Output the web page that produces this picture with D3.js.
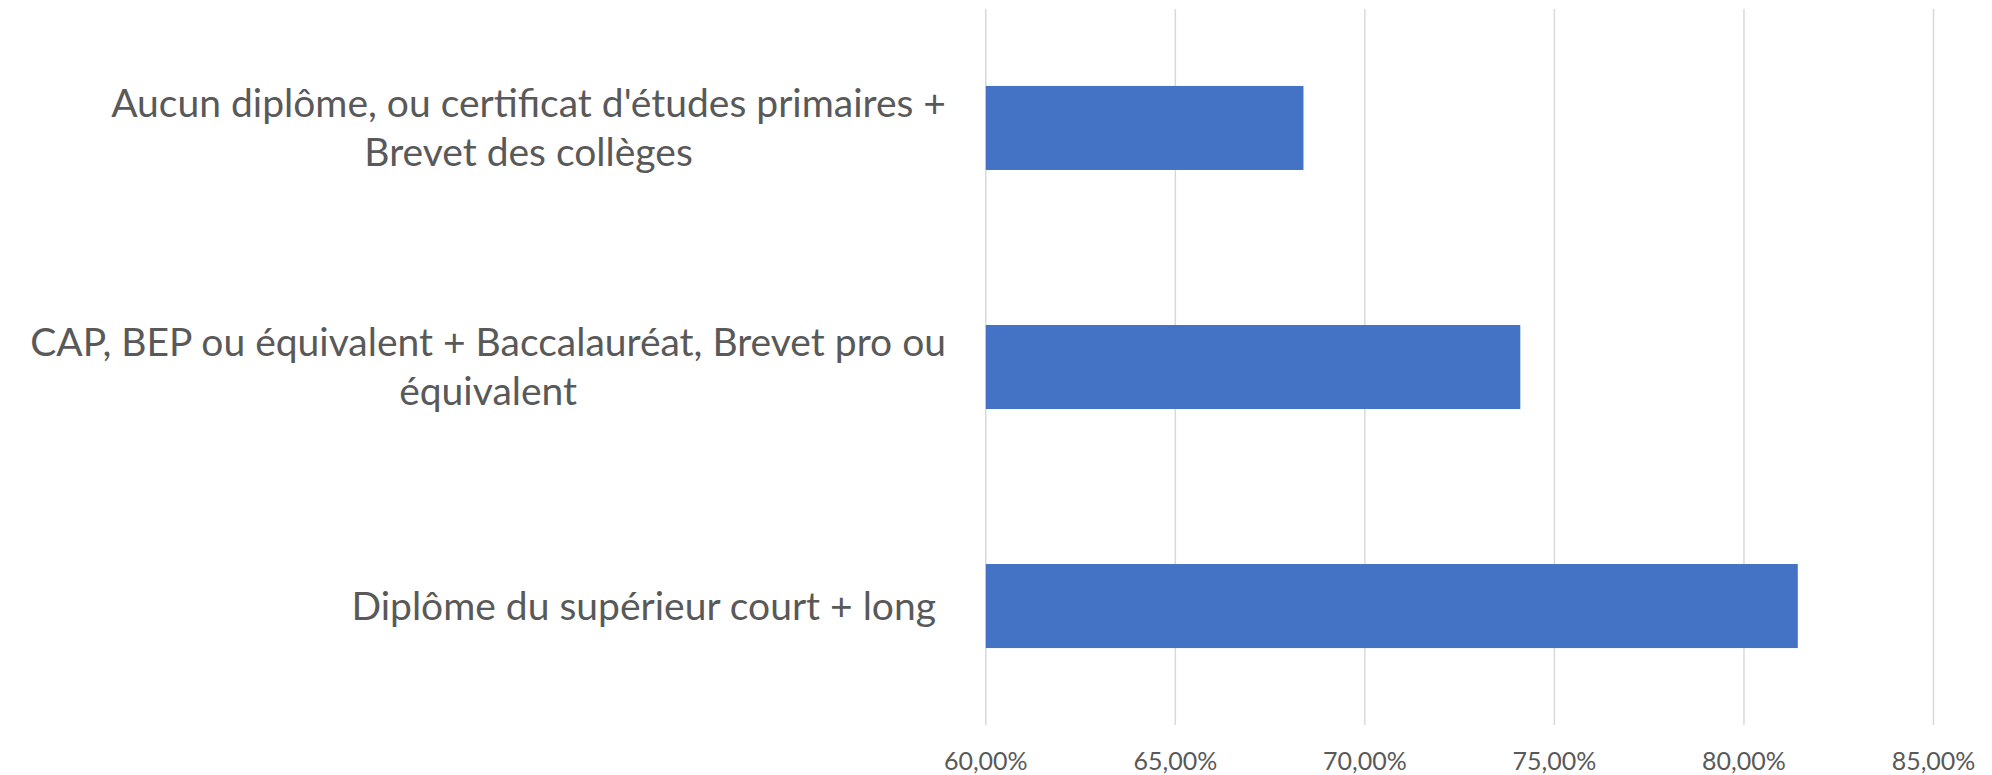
<!DOCTYPE html>
<html>
<head>
<meta charset="utf-8">
<script src="https://cdn.jsdelivr.net/npm/d3@7"></script>
<style>
  body { margin: 0; background: #fff; }
  text { font-family: Lato, "Noto Sans", sans-serif; fill: #595959; }
</style>
</head>
<body>
<div id="chart"></div>
<script>
// data
var categories = [
	["Aucun diplôme, ou certificat d'études primaires +", "Brevet des collèges"],
	["CAP, BEP ou équivalent + Baccalauréat, Brevet pro ou", "équivalent"],
	["Diplôme du supérieur court + long "]
];
var values = [0.6838, 0.7410, 0.8142];
var tickValues = [0.60, 0.65, 0.70, 0.75, 0.80, 0.85];

// build canvas
var width = 1992,
	height = 775;

var svg = d3.select('#chart')
			.append('svg')
			.attr('width', width)
			.attr('height', height);

// scales
var x = d3.scaleLinear()
		.domain([0.60, 0.85])
		.range([985.8, 1933.5]);

var y = d3.scaleBand()
		.domain(d3.range(categories.length))
		.range([8.5, 725.5])
		.paddingInner(0.6485)
		.paddingOuter(0.324);

var fmt = d => d3.format('.2f')(d * 100).replace('.', ',') + '%';

// gridlines
svg.append('g')
	.selectAll('line')
	.data(tickValues).enter()
	.append('line')
	.attr('x1', d => x(d))
	.attr('x2', d => x(d))
	.attr('y1', 9)
	.attr('y2', 725)
	.attr('stroke', '#d9d9d9')
	.attr('stroke-width', 1.5);

// bars
svg.append('g')
	.selectAll('rect')
	.data(values).enter()
	.append('rect')
	.attr('x', x(0.60))
	.attr('y', (d, i) => y(i))
	.attr('width', d => x(d) - x(0.60))
	.attr('height', y.bandwidth())
	.attr('fill', '#4472c4');

// x axis labels
svg.append('g')
	.selectAll('text')
	.data(tickValues).enter()
	.append('text')
	.attr('x', d => x(d))
	.attr('y', 769.5)
	.attr('text-anchor', 'middle')
	.style('font-size', '25px')
	.text(fmt);

// category labels (lines centred within a block right-aligned at 946)
var labelRight = 946,
	lineGap = 49;

var labels = svg.append('g')
	.selectAll('g')
	.data(categories).enter()
	.append('g');

labels.each(function(lines, i) {
	var g = d3.select(this);
	var cy = y(i) + y.bandwidth() / 2;
	var t = g.selectAll('text')
		.data(lines).enter()
		.append('text')
		.attr('y', (d, j) => cy + (j - (lines.length - 1) / 2) * lineGap)
		.attr('dy', '0.35em')
		.attr('text-anchor', 'middle')
		.style('font-size', '39px')
		.style('white-space', 'pre')
		.text(d => d);
	var maxW = d3.max(t.nodes(), n => n.getComputedTextLength());
	t.attr('x', labelRight - maxW / 2);
});
</script>
</body>
</html>
